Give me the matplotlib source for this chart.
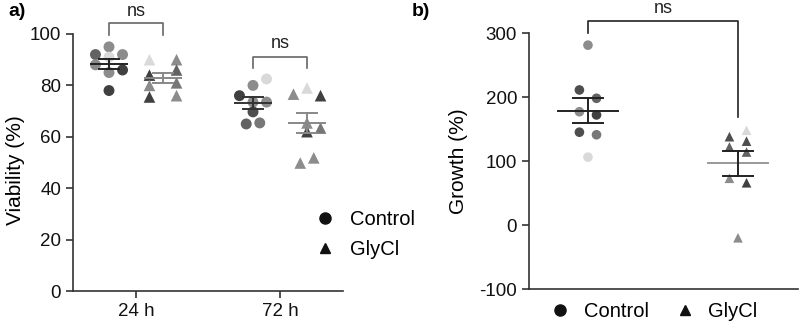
#!/usr/bin/env python3

import numpy as np
import matplotlib
matplotlib.use('Agg')
import matplotlib.pyplot as plt
from matplotlib.lines import Line2D

plt.rcParams['font.family'] = ['Liberation Sans', 'DejaVu Sans']
plt.rcParams['axes.unicode_minus'] = False

# ======================================================================
# Data

timepoints = ['24 h', '72 h']
groups = ['Control', 'GlyCl']

# Viability (%), panel a
via_ctrl_24 = [95, 92, 91, 92, 88, 85, 86, 78]
via_gly_24 = [90, 90, 86, 84, 80, 81, 75.5, 76]
via_ctrl_72 = [82.5, 80, 76, 73.5, 73.5, 69.7, 65, 65.4]
via_gly_72 = [79, 76.6, 76, 65.4, 63.4, 62, 51.8, 49.8]

# Growth (%), panel b
growth_ctrl = [281, 211, 198, 177, 172, 145, 141, 106]
growth_gly = [148, 138, 131, 122, 114, 73, 66, -20]

sig_label = 'ns'

# ======================================================================
# Layout / style: swarm column of each point and its grey shade

L = '#d9d9d9'
M = '#8c8c8c'
M2 = '#777777'
D2 = '#626262'
D1 = '#4e4e4e'
D = '#404040'

cols_ctrl_24 = [0, -1, 0, 1, -1, 0, 1, 0]
shade_ctrl_24 = [M, D2, L, M, M, M, D, D]
cols_gly_24 = [-1, 1, 1, -1, -1, 1, -1, 1]
shade_gly_24 = [L, M, D2, D, M, M2, D, M]
cols_ctrl_72 = [1, 0, -1, 0, 1, 0, -0.5, 0.5]
shade_ctrl_72 = [L, M, D, M, M, D1, D2, M2]
cols_gly_72 = [0, -1, 1, 0, 1, 0, 0.5, -0.5]
shade_gly_72 = [L, M, D, M, M2, D, M, M]

cols_ctrl_b = [0, -1, 1, -1, 1, -1, 1, 0]
shade_ctrl_b = [M, D1, D2, M, D, D1, M2, L]
cols_gly_b = [1, -1, 1, -1, 1, -1, 1, 0]
shade_gly_b = [L, D1, D1, D2, D2, M, D, M]

AXC = '#333333'

# ----------------------------------------------------------------------

def style_axes(ax):
    for s in ['top', 'right']:
        ax.spines[s].set_visible(False)
    for s in ['left', 'bottom']:
        ax.spines[s].set_color(AXC)
        ax.spines[s].set_linewidth(1.2)
    ax.tick_params(colors=AXC, width=1.2, length=5, labelsize=13.5,
                   labelcolor='#111111')


def mean_sem(ax, x, vals, half_mean, half_cap, mcolor, ecolor):
    vals = np.asarray(vals, dtype=float)
    m = vals.mean()
    sem = vals.std(ddof=1) / np.sqrt(len(vals))
    ax.plot([x - half_mean, x + half_mean], [m, m], color=mcolor, lw=1.4, zorder=4)
    ax.plot([x, x], [m - sem, m + sem], color=ecolor, lw=1.4, zorder=4)
    for y in (m - sem, m + sem):
        ax.plot([x - half_cap, x + half_cap], [y, y], color=ecolor, lw=1.4, zorder=4)


def swarm(ax, x, vals, cols, shades, step, marker, size):
    xs = [x + c * step for c in cols]
    ax.scatter(xs, vals, c=shades, marker=marker, s=size, edgecolors='none', zorder=3)


def bracket(ax, x0, x1, top, y0, y1, color, text_y):
    ax.plot([x0, x0, x1, x1], [y0, top, top, y1], color=color, lw=1.2,
            clip_on=False, zorder=5)
    ax.text((x0 + x1) / 2, text_y, sig_label, ha='center', va='baseline',
            fontsize=13, color='#222222', clip_on=False)


fig = plt.figure(figsize=(8, 3.24), dpi=100)

# ---------------------------------------------------------------- panel a
ax = fig.add_axes([73 / 800, 33 / 324, 270 / 800, 257 / 324])
style_axes(ax)
ax.set_xlim(-0.4375, 1.4375)
ax.set_ylim(0, 100)
ax.set_yticks(np.arange(0, 101, 20))
ax.set_xticks([0, 1])
ax.set_xticklabels(timepoints)
ax.set_ylabel('Viability (%)', fontsize=15)
ax.yaxis.set_label_coords(-0.178, 0.47)

off = 0.1875
step_a = 0.094
sets = [
    (0 - off, via_ctrl_24, cols_ctrl_24, shade_ctrl_24, 'o', '#222222', '#222222'),
    (0 + off, via_gly_24, cols_gly_24, shade_gly_24, '^', '#888888', '#888888'),
    (1 - off, via_ctrl_72, cols_ctrl_72, shade_ctrl_72, 'o', '#333333', '#333333'),
    (1 + off, via_gly_72, cols_gly_72, shade_gly_72, '^', '#888888', '#888888'),
]
for x, vals, cols, shades, mk, mc, ec in sets:
    swarm(ax, x, vals, cols, shades, step_a, mk, 62 if mk == 'o' else 70)
    mean_sem(ax, x, vals, 0.125, 0.07, mc, ec)

top24 = max(via_ctrl_24 + via_gly_24)
bracket(ax, -off, off, top24 + 9.3, top24 + 4.6, top24 + 4.6, '#666666', top24 + 12)
top72 = max(via_ctrl_72 + via_gly_72)
bracket(ax, 1 - off, 1 + off, top72 + 8.5, top72 + 4.3, top72 + 4.3, '#666666', top72 + 12)

handles = [Line2D([], [], ls='', marker='o', color='#111111', markersize=8),
           Line2D([], [], ls='', marker='^', color='#111111', markersize=7)]
ax.legend(handles, groups, loc='center left', bbox_to_anchor=(0.86, 0.22),
          frameon=False, fontsize=14.5, handletextpad=0.6, labelspacing=0.55,
          borderaxespad=0, handlelength=1.2)

fig.text(8 / 800, 1 - 12 / 324, 'a)', fontsize=14, fontweight='bold',
         ha='left', va='center')

# ---------------------------------------------------------------- panel b
bx = fig.add_axes([529 / 800, 35 / 324, 269 / 800, 256 / 324])
style_axes(bx)
bx.set_xlim(-0.393, 1.4)
bx.set_ylim(-100, 300)
bx.set_yticks(np.arange(-100, 301, 100))
bx.set_xticks([])
bx.set_ylabel('Growth (%)', fontsize=15)
bx.yaxis.set_label_coords(-0.227, 0.5)

step_b = 0.057
swarm(bx, 0, growth_ctrl, cols_ctrl_b, shade_ctrl_b, step_b, 'o', 48)
mean_sem(bx, 0, growth_ctrl, 0.2, 0.1, '#222222', '#222222')
swarm(bx, 1, growth_gly, cols_gly_b, shade_gly_b, step_b, '^', 48)
mean_sem(bx, 1, growth_gly, 0.2, 0.1, '#999999', '#222222')

bracket(bx, 0, 1, max(growth_ctrl) + 38, max(growth_ctrl) + 19,
        max(growth_gly) + 21, '#222222', max(growth_ctrl) + 51)

bx.legend(handles, groups, loc='upper center', bbox_to_anchor=(0.46, -0.02),
          ncol=2, frameon=False, fontsize=14.5, handletextpad=0.55,
          columnspacing=1.2, borderaxespad=0, handlelength=1.2)

fig.text(412 / 800, 1 - 12 / 324, 'b)', fontsize=14, fontweight='bold',
         ha='left', va='center')

plt.savefig('out.png', dpi=100)
